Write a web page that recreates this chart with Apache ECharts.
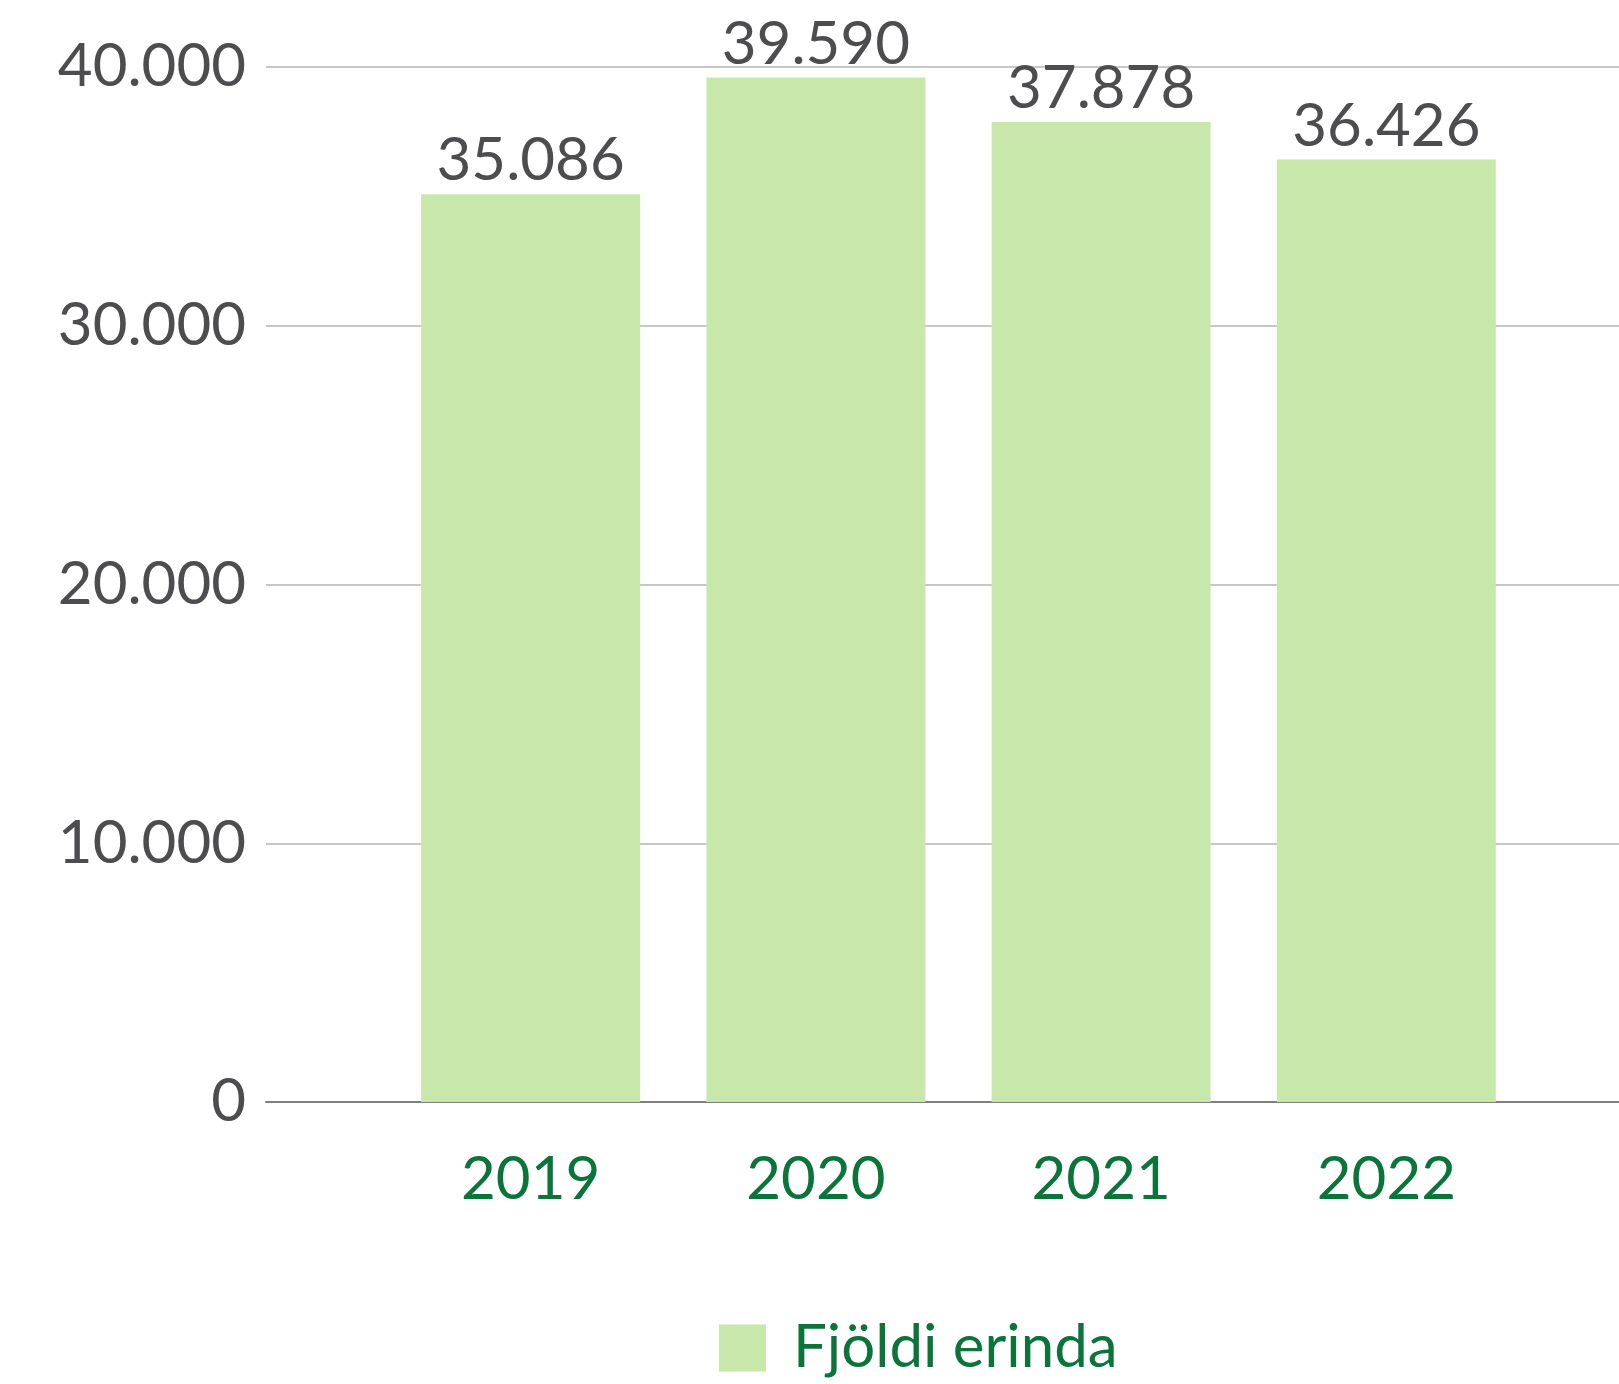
<!DOCTYPE html>
<html lang="is">
<head>
    <meta charset="utf-8">
    <style>
        html, body { margin: 0; padding: 0; background: #fff; }
        #chart { width: 1619px; height: 1384px; }
    </style>
</head>
<body>
<div id="chart"></div>
<script type="text/javascript" src="https://cdn.jsdelivr.net/npm/echarts@6/dist/echarts.min.js"></script>
<script type="text/javascript">
    var years = ['2019', '2020', '2021', '2022'];
    var erindi = [35086, 39590, 37878, 36426];
    var yTicks = [0, 10000, 20000, 30000, 40000];
    var seriesName = 'Fjöldi erinda';

    var FONT = 'Lato';
    var SIZE = 60;
    var GRAY = '#4d4d50';
    var GREEN = '#0b743a';
    var BAR = '#c8e8ab';

    // 35086 -> "35.086"
    function dotFormat(v) {
        return String(v).replace(/\B(?=(\d{3})+(?!\d))/g, '.');
    }

    var yMax = yTicks[yTicks.length - 1];
    var yStep = yTicks[1] - yTicks[0];

    var option = {
        backgroundColor: '#fff',
        animation: false,
        textStyle: { fontFamily: FONT },
        legend: {
            data: [seriesName],
            left: 714,
            top: 1313,
            itemWidth: 47,
            itemHeight: 47,
            itemGap: 20,
            icon: 'rect',
            textStyle: { color: GREEN, fontSize: SIZE, fontFamily: FONT, padding: [0, 0, 0, 22] }
        },
        grid: [
            // full width grid for the gridlines and y labels
            { left: 266, right: 0, top: 67, height: 1035 },
            // grid holding the bars
            { left: 388, width: 1141, top: 67, height: 1035 }
        ],
        xAxis: [
            {
                gridIndex: 0, type: 'value', min: 0, max: 1,
                axisLine: { show: true, lineStyle: { color: '#7f7f7f', width: 2 } },
                axisTick: { show: false }, axisLabel: { show: false }, splitLine: { show: false }
            },
            {
                gridIndex: 1, type: 'category', data: years,
                axisLine: { show: false }, axisTick: { show: false },
                axisLabel: { color: GREEN, fontSize: SIZE, fontFamily: FONT, margin: 48 }
            }
        ],
        yAxis: [
            {
                gridIndex: 0, type: 'value', min: 0, max: yMax, interval: yStep,
                axisLine: { show: false }, axisTick: { show: false },
                axisLabel: { color: GRAY, fontSize: SIZE, fontFamily: FONT, margin: 20, formatter: dotFormat },
                splitLine: { lineStyle: { color: '#b5b5b5', width: 1.5 } }
            },
            {
                gridIndex: 1, type: 'value', min: 0, max: yMax, interval: yStep,
                show: false, splitLine: { show: false }
            }
        ],
        series: [{
            name: seriesName,
            type: 'bar',
            xAxisIndex: 1,
            yAxisIndex: 1,
            data: erindi,
            barWidth: 219,
            itemStyle: { color: BAR },
            label: {
                show: true,
                position: 'top',
                distance: 3,
                color: GRAY,
                fontSize: SIZE,
                fontFamily: FONT,
                formatter: function (p) { return dotFormat(p.value); }
            }
        }]
    };

    var myChart = echarts.init(document.getElementById('chart'));
    myChart.setOption(option);
</script>
</body>
</html>
